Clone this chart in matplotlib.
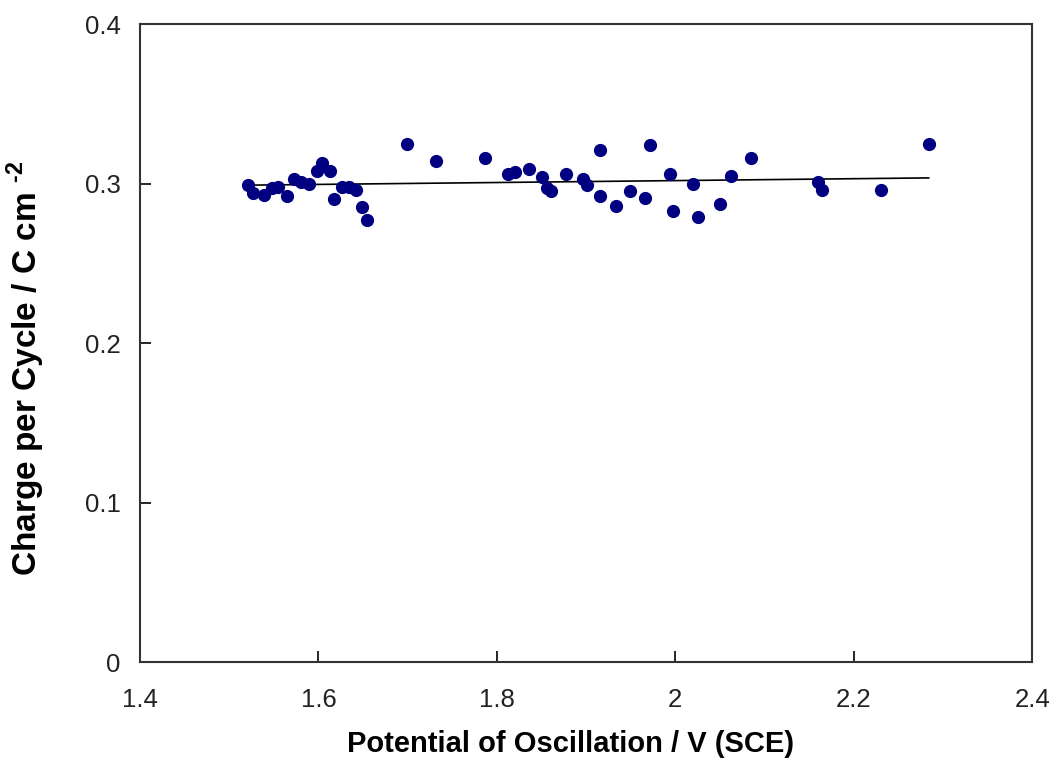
import numpy as np
import matplotlib.pyplot as plt

plt.rcParams['font.family'] = ['Liberation Sans', 'DejaVu Sans']
plt.rcParams['mathtext.fontset'] = 'custom'
plt.rcParams['mathtext.rm'] = 'Liberation Sans:bold'

# potential of oscillation (V vs SCE) and charge per cycle (C cm^-2)
potential = [1.521, 1.527, 1.539, 1.548, 1.555, 1.565, 1.573, 1.581, 1.589, 1.598,
             1.604, 1.613, 1.618, 1.627, 1.634, 1.642, 1.649, 1.655, 1.699, 1.732,
             1.787, 1.812, 1.820, 1.836, 1.851, 1.856, 1.861, 1.877, 1.897, 1.901,
             1.916, 1.916, 1.934, 1.949, 1.966, 1.972, 1.994, 1.997, 2.020, 2.026,
             2.050, 2.062, 2.085, 2.160, 2.165, 2.231, 2.284]
charge = [0.299, 0.294, 0.293, 0.297, 0.298, 0.292, 0.303, 0.301, 0.300, 0.308,
          0.313, 0.308, 0.290, 0.298, 0.298, 0.296, 0.285, 0.277, 0.325, 0.314,
          0.316, 0.306, 0.307, 0.309, 0.304, 0.297, 0.295, 0.306, 0.303, 0.299,
          0.321, 0.292, 0.286, 0.295, 0.291, 0.324, 0.306, 0.283, 0.300, 0.279,
          0.287, 0.305, 0.316, 0.301, 0.296, 0.296, 0.325]

fig = plt.figure(figsize=(10.5, 7.65), dpi=100)
ax = fig.add_axes([0.1333, 0.1346, 0.8497, 0.834])

ax.plot(potential, charge, 'o', color='#000080', markersize=8.5, zorder=3)

# linear trend line over the data range
p = np.polyfit(potential, charge, 1)
xs = np.array([min(potential), max(potential)])
ax.plot(xs, np.polyval(p, xs), color='black', lw=1.2, zorder=2)

ax.set_xlim(1.4, 2.4)
ax.set_ylim(0, 0.4)
ax.set_xticks([1.4, 1.6, 1.8, 2.0, 2.2, 2.4])
ax.set_xticklabels(['1.4', '1.6', '1.8', '2', '2.2', '2.4'])
ax.set_yticks([0, 0.1, 0.2, 0.3, 0.4])
ax.set_yticklabels(['0', '0.1', '0.2', '0.3', '0.4'])
ax.tick_params(direction='in', length=8, width=1.2, labelsize=18.5, labelcolor='#222222')
ax.tick_params(axis='x', pad=19)
ax.tick_params(axis='y', pad=14)
for s in ax.spines.values():
    s.set_linewidth(1.5)
    s.set_color('#333333')

ax.set_xlabel('Potential of Oscillation / V (SCE)', fontsize=21, fontweight='bold')
ax.set_ylabel('Charge per Cycle / C cm $^{\\text{-2}}$', fontsize=24, fontweight='bold')
ax.xaxis.set_label_coords(0.483, -0.106)
ax.yaxis.set_label_coords(-0.104, 0.46)

fig.savefig('out.png', dpi=100)
